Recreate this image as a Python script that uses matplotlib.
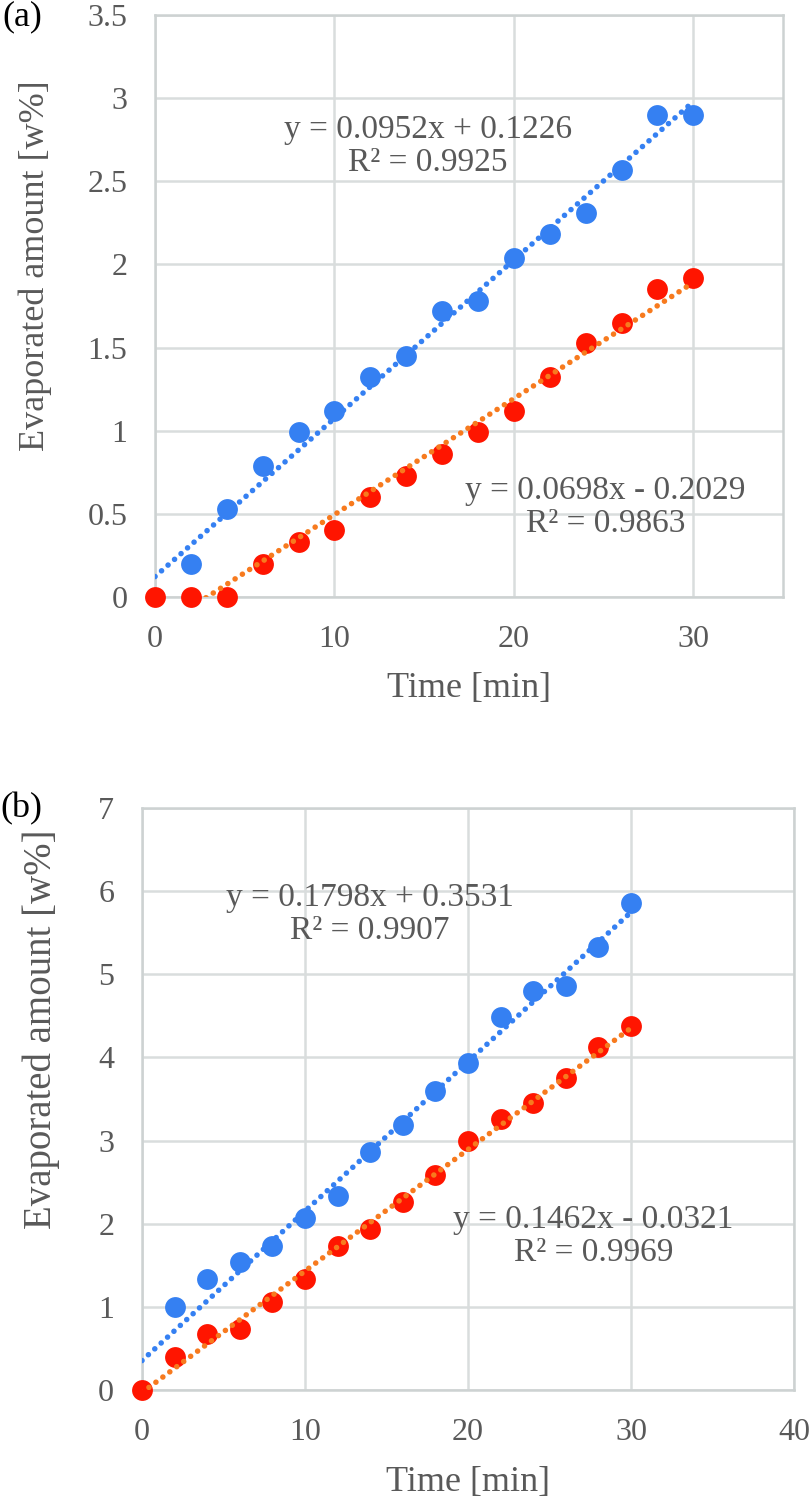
import matplotlib
matplotlib.use('Agg')
import matplotlib.pyplot as plt
import numpy as np
from matplotlib.ticker import MultipleLocator, FormatStrFormatter

# 数据 (a)
time_a = [2, 4, 6, 8, 10, 12, 14, 16, 18, 20, 22, 24, 26, 28, 30]
blue_a = [0.20, 0.53, 0.79, 0.99, 1.12, 1.32, 1.45, 1.72, 1.78, 2.04, 2.18, 2.31, 2.57, 2.90, 2.90]
time_red_a = [0, 2, 4, 6, 8, 10, 12, 14, 16, 18, 20, 22, 24, 26, 28, 30]
red_a = [0, 0, 0, 0.20, 0.33, 0.40, 0.60, 0.73, 0.86, 0.99, 1.12, 1.32, 1.53, 1.65, 1.85, 1.92]
fit_blue_a = (0.0952, 0.1226)
fit_red_a = (0.0698, -0.2029)
r2_blue_a = 0.9925
r2_red_a = 0.9863

# 数据 (b)
time_b = [2, 4, 6, 8, 10, 12, 14, 16, 18, 20, 22, 24, 26, 28, 30]
blue_b = [1.00, 1.34, 1.54, 1.73, 2.07, 2.33, 2.86, 3.19, 3.60, 3.93, 4.48, 4.80, 4.86, 5.33, 5.86]
time_red_b = [0, 2, 4, 6, 8, 10, 12, 14, 16, 18, 20, 22, 24, 26, 28, 30]
red_b = [0, 0.40, 0.67, 0.73, 1.06, 1.34, 1.73, 1.94, 2.26, 2.59, 3.00, 3.26, 3.45, 3.75, 4.13, 4.38]
fit_blue_b = (0.1798, 0.3531)
fit_red_b = (0.1462, -0.0321)
r2_blue_b = 0.9907
r2_red_b = 0.9969

BLUE = '#3580F2'
RED = '#FF1500'
ORANGE = '#F77A1E'
GRID = '#D9DDDD'
TXT = '#595959'

plt.rcParams['font.family'] = ['Liberation Serif', 'DejaVu Serif']


def eq_text(fit, r2):
    a, b = fit
    sign = '+' if b >= 0 else '-'
    return 'y = %.4fx %s %.4f\nR² = %.4f' % (a, sign, abs(b), r2)


def draw_panel(ax, tx, by, trx, ry, fb, fr, rb, rr, xmax, ymax, ystep, pos_b, pos_r, ylab_size):
    ax.plot(trx, ry, 'o', color=RED, ms=15, mec='none', zorder=3, clip_on=False)
    ax.plot(tx, by, 'o', color=BLUE, ms=15, mec='none', zorder=3, clip_on=False)
    xs = np.array([0, 30])
    dots = dict(lw=4, linestyle=(0, (0.01, 1.55)), dash_capstyle='round', zorder=4)
    ax.plot(xs, fb[0] * xs + fb[1], color=BLUE, **dots)
    ax.plot(xs, fr[0] * xs + fr[1], color=ORANGE, **dots)
    ax.set_xlim(0, xmax)
    ax.set_ylim(0, ymax)
    ax.xaxis.set_major_locator(MultipleLocator(10))
    ax.yaxis.set_major_locator(MultipleLocator(ystep))
    ax.yaxis.set_major_formatter(FormatStrFormatter('%g'))
    ax.grid(True, color=GRID, lw=1.8, zorder=0)
    ax.set_axisbelow(True)
    for s in ax.spines.values():
        s.set_color('#CDD2D2')
        s.set_linewidth(1.8)
    ax.tick_params(length=0, labelsize=23, labelcolor=TXT, pad=20)
    ax.set_xlabel('Time [min]', fontsize=26, color=TXT)
    ax.set_ylabel('Evaporated amount [w%]', fontsize=ylab_size, color=TXT)
    ax.text(pos_b[0], pos_b[1], eq_text(fb, rb), ha='center', va='center',
            fontsize=24, color=TXT, linespacing=1.1, zorder=5)
    ax.text(pos_r[0], pos_r[1], eq_text(fr, rr), ha='center', va='center',
            fontsize=24, color=TXT, linespacing=1.1, zorder=5)


fig = plt.figure(figsize=(8.1, 15.01), dpi=100)
ax1 = fig.add_axes([0.1914, 0.6023, 0.7753, 0.3877])
ax2 = fig.add_axes([0.1753, 0.0740, 0.8050, 0.3877])

draw_panel(ax1, time_a, blue_a, time_red_a, red_a, fit_blue_a, fit_red_a,
           r2_blue_a, r2_red_a, 35, 3.5, 0.5, (15.2, 2.71), (25.1, 0.54), 26)
draw_panel(ax2, time_b, blue_b, time_red_b, red_b, fit_blue_b, fit_red_b,
           r2_blue_b, r2_red_b, 40, 7, 1, (14.0, 5.72), (27.7, 1.85), 28)

ax1.xaxis.set_label_coords(0.5, -0.129)
ax1.yaxis.set_label_coords(-0.164, 0.57)
ax2.xaxis.set_label_coords(0.5, -0.131)
ax2.yaxis.set_label_coords(-0.126, 0.62)

fig.text(0.003, 0.9887, '(a)', fontsize=26, color='black', va='center')
fig.text(0.0, 0.461, '(b)', fontsize=26, color='black', va='center')

fig.savefig('out.png', dpi=100)
